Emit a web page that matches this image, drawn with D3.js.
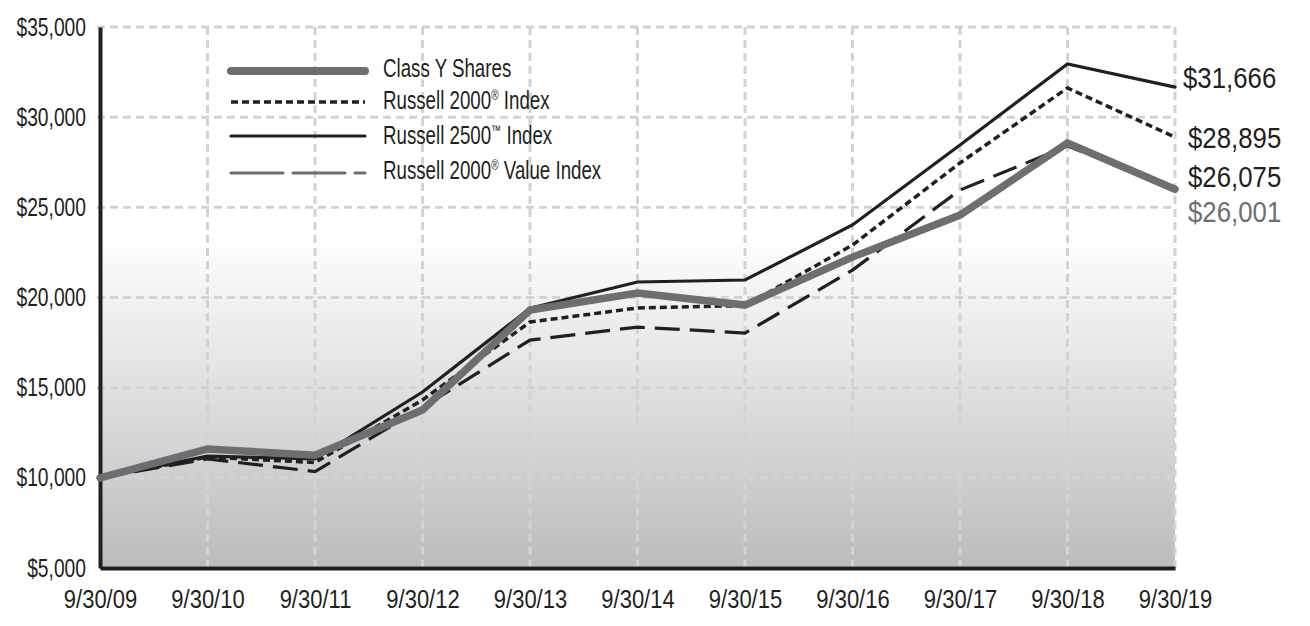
<!DOCTYPE html>
<html>
<head>
<meta charset="utf-8">
<script src="https://cdn.jsdelivr.net/npm/d3@7"></script>
<style>
  html, body { margin: 0; padding: 0; background: #ffffff; }
  svg { display: block; }
  text { font-family: "Liberation Sans", Arial, sans-serif; fill: #231f20; }
</style>
</head>
<body>
<svg id="chart" width="1310" height="626"></svg>
<script>
// ---- data ----
const dates = ["9/30/09","9/30/10","9/30/11","9/30/12","9/30/13","9/30/14","9/30/15","9/30/16","9/30/17","9/30/18","9/30/19"];
const classY  = [10000, 11600, 11250, 13760, 19300, 20250, 19580, 22240, 24570, 28570, 26001];
const r2000   = [10000, 11150, 10850, 14320, 18640, 19420, 19550, 22910, 27460, 31620, 28895];
const r2500   = [10000, 11200, 11050, 14760, 19400, 20860, 20970, 24020, 28460, 32950, 31666];
const r2000v  = [10000, 11050, 10350, 13900, 17640, 18360, 18030, 21520, 25960, 28400, 26075];
const yTicks  = [5000, 10000, 15000, 20000, 25000, 30000, 35000];
const seriesNames = ["Class Y Shares", "Russell 2000® Index", "Russell 2500™ Index", "Russell 2000® Value Index"];

const svg = d3.select("#chart");
const x = d3.scalePoint().domain(dates).range([100, 1175]);
const y = d3.scaleLinear().domain([5000, 35000]).range([568, 27]);
const fmt = v => "$" + d3.format(",")(v);
const FONT = '"Liberation Sans", Arial, sans-serif';

// background gradient
const defs = svg.append("defs");
const grad = defs.append("linearGradient").attr("id", "bg")
  .attr("gradientUnits", "userSpaceOnUse")
  .attr("x1", 0).attr("x2", 0).attr("y1", y(35000)).attr("y2", y(5000));
grad.append("stop").attr("offset", "0").attr("stop-color", "#ffffff");
grad.append("stop").attr("offset", "0.38").attr("stop-color", "#ffffff");
grad.append("stop").attr("offset", "1").attr("stop-color", "#bbbcbe");

svg.append("rect")
  .attr("x", x(dates[0])).attr("y", y(35000))
  .attr("width", x(dates[dates.length - 1]) - x(dates[0]))
  .attr("height", y(5000) - y(35000))
  .attr("fill", "url(#bg)");

// grid
const gridColor = "#d3d3d5";
svg.append("g").selectAll("line").data(yTicks.slice(1)).join("line")
  .attr("x1", x(dates[0]) - 3).attr("x2", x(dates[dates.length - 1]))
  .attr("y1", d => y(d)).attr("y2", d => y(d))
  .attr("stroke", gridColor).attr("stroke-width", 3).attr("stroke-dasharray", "8,5");
svg.append("g").selectAll("line").data(dates.slice(1)).join("line")
  .attr("x1", d => x(d)).attr("x2", d => x(d))
  .attr("y1", y(35000)).attr("y2", y(5000))
  .attr("stroke", gridColor).attr("stroke-width", 3).attr("stroke-dasharray", "8,5");

// axes
const ySX = 0.77;
const yAxis = svg.append("g").attr("transform", `translate(${x(dates[0])},0)`)
  .call(d3.axisLeft(y).tickValues(yTicks).tickFormat(fmt).tickSize(0).tickPadding(14));
yAxis.select(".domain").attr("stroke", "#231f20").attr("stroke-width", 4);
yAxis.selectAll("text").attr("font-size", 25).attr("fill", "#231f20")
  .style("font-family", FONT)
  .attr("x", -14 / ySX).attr("transform", `scale(${ySX},1)`);

const xSX = 0.88;
const xAxis = svg.append("g").attr("transform", `translate(0,${y(5000)})`)
  .call(d3.axisBottom(x).tickSize(0).tickPadding(0));
xAxis.select(".domain").attr("stroke", "#231f20").attr("stroke-width", 4);
xAxis.selectAll("text").attr("font-size", 25).attr("fill", "#231f20")
  .attr("y", 40).attr("dy", 0)
  .style("font-family", FONT)
  .attr("transform", `scale(${xSX},1)`);

// lines
const line = d3.line().x((d, i) => x(dates[i])).y(d => y(d));
const styles = [
  { data: r2000v, color: "#231f20", width: 3.2, dash: "25,10" },
  { data: r2000,  color: "#231f20", width: 3.5, dash: "7,4" },
  { data: r2500,  color: "#231f20", width: 3.2, dash: null },
  { data: classY, color: "#6d6e71", width: 7.5, dash: null }
];
styles.forEach(s => {
  svg.append("path").datum(s.data).attr("d", line)
    .attr("fill", "none").attr("stroke", s.color).attr("stroke-width", s.width)
    .attr("stroke-linejoin", "miter").attr("stroke-linecap", s.dash ? "butt" : "round")
    .attr("stroke-dasharray", s.dash);
});

// legend
const legendItems = [
  { name: seriesNames[0], color: "#6d6e71", width: 8, dash: null, cap: "round", ly: 71, ty: 68 },
  { name: seriesNames[1], color: "#231f20", width: 3.5, dash: "7,4", cap: "butt", ly: 102, ty: 100 },
  { name: seriesNames[2], color: "#231f20", width: 3.2, dash: null, cap: "round", ly: 136, ty: 135 },
  { name: seriesNames[3], color: "#6d6e71", width: 3.2, dash: "52,10", cap: "round", ly: 173, ty: 170 }
];
const lg = svg.append("g");
legendItems.forEach(it => {
  lg.append("line").attr("x1", 231).attr("x2", 365).attr("y1", it.ly).attr("y2", it.ly)
    .attr("stroke", it.color).attr("stroke-width", it.width)
    .attr("stroke-linecap", it.cap).attr("stroke-dasharray", it.dash);
  const t = lg.append("text").attr("transform", `translate(383,${it.ty + 9}) scale(0.72,1)`)
    .attr("font-size", 26);
  const parts = it.name.split(/([®™])/).filter(p => p.length);
  let raised = false;
  parts.forEach(p => {
    if (p === "®" || p === "™") {
      t.append("tspan").attr("font-size", 14).attr("dy", -9).text(p);
      raised = true;
    } else {
      const ts = t.append("tspan").text(p);
      if (raised) { ts.attr("dy", 9); raised = false; }
    }
  });
});

// end labels
const endLabels = [
  { v: r2500[10],  color: "#231f20", ty: 77 },
  { v: r2000[10],  color: "#231f20", ty: 137 },
  { v: r2000v[10], color: "#231f20", ty: 176 },
  { v: classY[10], color: "#6d6e71", ty: 211 }
];
const eSX = 0.86;
svg.append("g").selectAll("text").data(endLabels).join("text")
  .attr("transform", (d, i) => `translate(${i === 0 ? 1183 : 1188},${d.ty + 11}) scale(${eSX},1)`)
  .attr("font-size", 30)
  .style("fill", d => d.color)
  .text(d => fmt(d.v));
</script>
</body>
</html>
